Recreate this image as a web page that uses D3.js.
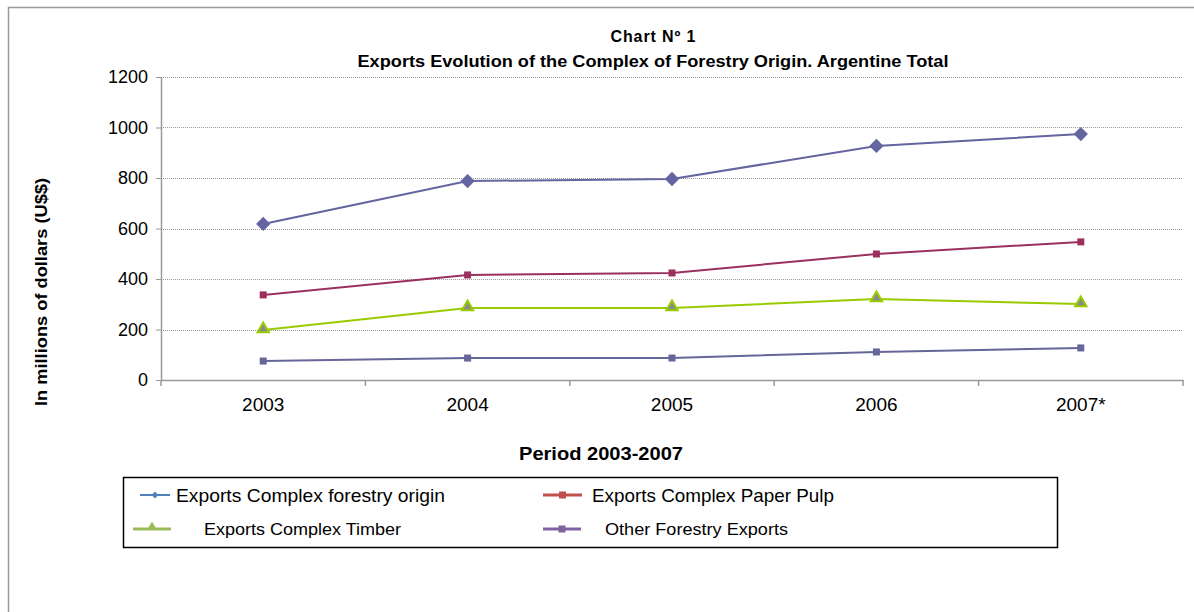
<!DOCTYPE html>
<html>
<head>
<meta charset="utf-8">
<script src="https://cdn.jsdelivr.net/npm/d3@7"></script>
<style>
  body { margin: 0; background: #fff; }
  text { font-family: "Liberation Sans", Arial, sans-serif; }
</style>
</head>
<body>
<div id="chart"></div>
<script>
// DATA
var years = ["2003", "2004", "2005", "2006", "2007*"];
var totalForestry = [618, 788, 796, 927, 974];
var paperPulp = [337, 416, 424, 499, 547];
var timber = [198, 285, 285, 321, 301];
var otherForestry = [75, 87, 87, 111, 127];
var yTicks = [0, 200, 400, 600, 800, 1000, 1200];
var seriesNames = ["Exports Complex forestry origin", "Exports Complex Paper Pulp",
                   "Exports Complex Timber", "Other Forestry Exports"];

var svgWidth = 1194, svgHeight = 612;
var margins = { top: 77, bottom: 232, left: 161, right: 11 };
var width = svgWidth - margins.left - margins.right;
var height = svgHeight - margins.top - margins.bottom;

var svg = d3.select("#chart")
    .append("svg")
    .attr("width", svgWidth)
    .attr("height", svgHeight);

// Outer frame
svg.append("rect")
    .attr("x", 8.5).attr("y", 7.5)
    .attr("width", 1200).attr("height", 700)
    .attr("fill", "none")
    .attr("stroke", "#999")
    .attr("stroke-width", 1.5);

// Titles
svg.append("text")
    .attr("x", 653).attr("y", 42)
    .attr("text-anchor", "middle")
    .attr("font-size", 16).attr("font-weight", "bold")
    .attr("textLength", 85).attr("lengthAdjust", "spacing")
    .text("Chart Nº 1");
svg.append("text")
    .attr("x", 653).attr("y", 67)
    .attr("text-anchor", "middle")
    .attr("font-size", 16).attr("font-weight", "bold")
    .attr("textLength", 591).attr("lengthAdjust", "spacingAndGlyphs")
    .text("Exports Evolution of the Complex of Forestry Origin. Argentine Total");

var g = svg.append("g")
    .attr("transform", "translate(" + margins.left + "," + margins.top + ")");

// Scales
var x = d3.scaleBand().domain(years).range([0, width]);
var y = d3.scaleLinear().domain([0, 1200]).range([height, 0]);

// Gridlines
g.selectAll(".grid")
    .data(yTicks.filter(d => d > 0))
    .enter().append("line")
    .attr("x1", 0).attr("x2", width)
    .attr("y1", d => Math.round(y(d)) + 0.5)
    .attr("y2", d => Math.round(y(d)) + 0.5)
    .attr("stroke", "#999")
    .attr("stroke-dasharray", "1,1");

// Y axis
var yAxis = g.append("g")
    .call(d3.axisLeft(y).tickValues(yTicks).tickFormat(d3.format("d"))
        .tickSize(5).tickSizeOuter(0).tickPadding(8));
yAxis.select(".domain").attr("stroke", "#999").attr("stroke-width", 1.5);
yAxis.selectAll(".tick line").attr("stroke", "#999");
yAxis.selectAll("text").attr("font-size", 18).attr("font-family", "Liberation Sans, Arial, sans-serif").attr("fill", "#000");

// X axis
var xAxis = g.append("g")
    .attr("transform", "translate(0," + height + ")")
    .call(d3.axisBottom(x).tickSize(0).tickPadding(18));
xAxis.select(".domain").attr("stroke", "#999").attr("stroke-width", 1.5);
xAxis.selectAll("text").attr("font-size", 19).attr("font-family", "Liberation Sans, Arial, sans-serif").attr("fill", "#000");
// band boundary ticks
g.selectAll(".xtick")
    .data(years.concat(["end"]))
    .enter().append("line")
    .attr("x1", (d, i) => i < years.length ? x(d) : width)
    .attr("x2", (d, i) => i < years.length ? x(d) : width)
    .attr("y1", height).attr("y2", height + 6)
    .attr("stroke", "#999").attr("stroke-width", 1.5);

// Axis titles
svg.append("text")
    .attr("transform", "translate(47,292) rotate(-90)")
    .attr("text-anchor", "middle")
    .attr("font-size", 16).attr("font-weight", "bold")
    .attr("textLength", 228).attr("lengthAdjust", "spacingAndGlyphs")
    .text("In millions of dollars (U$$)");
svg.append("text")
    .attr("x", 601).attr("y", 460)
    .attr("text-anchor", "middle")
    .attr("font-size", 18).attr("font-weight", "bold")
    .attr("textLength", 164).attr("lengthAdjust", "spacingAndGlyphs")
    .text("Period 2003-2007");

// Lines
var series = [
    { values: totalForestry, color: "#6464a0", marker: "diamond" },
    { values: paperPulp, color: "#9b305f", marker: "square" },
    { values: timber, color: "#99cc00", marker: "triangle" },
    { values: otherForestry, color: "#666699", marker: "square" }
];

var line = d3.line()
    .x((d, i) => x(years[i]) + x.bandwidth() / 2)
    .y(d => y(d));

series.forEach(function(s) {
    g.append("path")
        .datum(s.values)
        .attr("fill", "none")
        .attr("stroke", s.color)
        .attr("stroke-width", 2)
        .attr("d", line);

    var pts = g.selectAll(null)
        .data(s.values)
        .enter();
    if (s.marker == "diamond") {
        pts.append("path")
            .attr("d", d3.symbol().type(d3.symbolDiamond2).size(130))
            .attr("transform", (d, i) => "translate(" + (x(years[i]) + x.bandwidth() / 2) + "," + y(d) + ")")
            .attr("fill", s.color);
    } else if (s.marker == "square") {
        pts.append("rect")
            .attr("x", (d, i) => x(years[i]) + x.bandwidth() / 2 - 3.5)
            .attr("y", d => y(d) - 3.5)
            .attr("width", 7).attr("height", 7)
            .attr("fill", s.color);
    } else {
        pts.append("path")
            .attr("d", d3.symbol().type(d3.symbolTriangle).size(55))
            .attr("transform", (d, i) => "translate(" + (x(years[i]) + x.bandwidth() / 2) + "," + (y(d) - 1) + ")")
            .attr("fill", "#8a8a8a")
            .attr("stroke", s.color)
            .attr("stroke-width", 2);
    }
});

// Legend
svg.append("rect")
    .attr("x", 123.5).attr("y", 477.5)
    .attr("width", 934).attr("height", 70)
    .attr("fill", "none")
    .attr("stroke", "#000")
    .attr("stroke-width", 1.5);

var legendItems = [
    { name: seriesNames[0], color: "#4f81bd", marker: "diamond", x1: 140, x2: 170, ty: 495, tx: 176, size: 19, len: 269 },
    { name: seriesNames[1], color: "#c0504d", marker: "square", x1: 543, x2: 582, ty: 495, tx: 592, size: 19, len: 242 },
    { name: seriesNames[2], color: "#9bbb59", marker: "triangle", x1: 133, x2: 171, ty: 529, tx: 204, size: 16, len: 197 },
    { name: seriesNames[3], color: "#8064a2", marker: "square", x1: 543, x2: 581, ty: 529, tx: 605, size: 16, len: 183 }
];

legendItems.forEach(function(it) {
    var lg = svg.append("g");
    lg.append("line")
        .attr("x1", it.x1).attr("x2", it.x2)
        .attr("y1", it.ty).attr("y2", it.ty)
        .attr("stroke", it.color)
        .attr("stroke-width", it.marker == "diamond" ? 2 : 3);
    var cx = (it.x1 + it.x2) / 2;
    if (it.marker == "diamond") {
        lg.append("path")
            .attr("d", d3.symbol().type(d3.symbolDiamond2).size(30))
            .attr("transform", "translate(" + cx + "," + it.ty + ")")
            .attr("fill", it.color);
    } else if (it.marker == "square") {
        lg.append("rect")
            .attr("x", cx - 3.5).attr("y", it.ty - 3.5)
            .attr("width", 7).attr("height", 7)
            .attr("fill", it.color);
    } else {
        lg.append("path")
            .attr("d", d3.symbol().type(d3.symbolTriangle).size(40))
            .attr("transform", "translate(" + cx + "," + (it.ty - 2) + ")")
            .attr("fill", it.color);
    }
    lg.append("text")
        .attr("x", it.tx).attr("y", it.ty + it.size * 0.35)
        .attr("font-size", it.size)
        .attr("textLength", it.len)
        .attr("lengthAdjust", "spacingAndGlyphs")
        .attr("fill", "#000")
        .text(it.name);
});
</script>
</body>
</html>
